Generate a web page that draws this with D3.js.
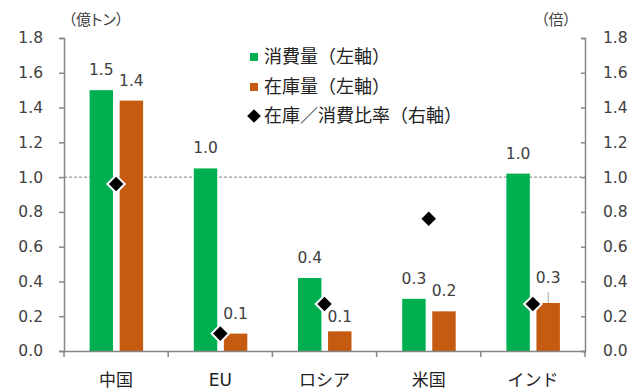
<!DOCTYPE html>
<html><head><meta charset="utf-8">
<script src="https://cdn.jsdelivr.net/npm/d3@7"></script>
<style>
body{margin:0;background:#fff;}
text{font-family:"DejaVu Sans","Noto Sans CJK JP",sans-serif;}
.jp{font-family:"Noto Sans CJK JP",sans-serif;}
</style></head>
<body><svg id="c" width="639" height="391"></svg>
<script>
const categories = ["中国", "EU", "ロシア", "米国", "インド"];
const consumption = [1.50, 1.05, 0.42, 0.30, 1.02];
const stock = [1.44, 0.10, 0.113, 0.228, 0.276];
const ratio = [0.96, 0.10, 0.27, 0.76, 0.27];
const consumptionLabels = ["1.5", "1.0", "0.4", "0.3", "1.0"];
const stockLabels = ["1.4", "0.1", "0.1", "0.2", "0.3"];
const yTicks = [0, 0.2, 0.4, 0.6, 0.8, 1.0, 1.2, 1.4, 1.6, 1.8];
const legendLabels = ["消費量（左軸）", "在庫量（左軸）", "在庫／消費比率（右軸）"];

const GREEN = "#00B050", ORANGE = "#C55A11", AXIS = "#868686", TXT = "#404040";
const svg = d3.select("#c");
const L = 64, R = 585, T = 38, B = 351;

const x = d3.scaleBand().domain(categories).range([L, R]).padding(0);
const keys = ["c", "s"];
const x1 = d3.scaleBand().domain(keys).range([-26.5, 27]).paddingInner(0.22);
const yL = d3.scaleLinear().domain([0, 1.8]).range([B, T]);
const yR = d3.scaleLinear().domain([0, 1.8]).range([B, T]);

// dashed reference line at 1.0
svg.append("line").attr("x1", L).attr("x2", R).attr("y1", yL(1)).attr("y2", yL(1))
  .attr("stroke", "#7f7f7f").attr("stroke-width", 1).attr("stroke-dasharray", "3,2");

// bars
const cx = c => x(c) + x.bandwidth() / 2;
const series = [{k: "c", vals: consumption, col: GREEN, labs: consumptionLabels},
                {k: "s", vals: stock, col: ORANGE, labs: stockLabels}];
series.forEach(s => {
  svg.append("g").selectAll("rect").data(categories).join("rect")
    .attr("x", (c) => cx(c) + x1(s.k))
    .attr("width", x1.bandwidth())
    .attr("y", (c, i) => yL(s.vals[i]))
    .attr("height", (c, i) => B - yL(s.vals[i]))
    .attr("fill", s.col);
});

// axes
const fmt = d3.format(".1f");
const gL = svg.append("g").attr("transform", `translate(${L},0)`)
  .call(d3.axisLeft(yL).tickValues(yTicks).tickFormat(fmt).tickSize(5).tickPadding(16));
const gR = svg.append("g").attr("transform", `translate(${R},0)`)
  .call(d3.axisRight(yR).tickValues(yTicks).tickFormat(fmt).tickSize(-4).tickPadding(18));
const gX = svg.append("g").attr("transform", `translate(0,${B})`)
  .call(d3.axisBottom(x).tickSize(0).tickPadding(23));
[gL, gR, gX].forEach(g => {
  g.select(".domain").attr("stroke", AXIS).attr("stroke-width", 1.5);
  g.selectAll(".tick line").attr("stroke", AXIS).attr("stroke-width", 1.5);
  g.selectAll("text").attr("fill", TXT).attr("font-size", 15.5)
    .attr("font-family", '"DejaVu Sans","Noto Sans CJK JP",sans-serif');
});
gX.selectAll("text").attr("font-size", 17).attr("fill", "#222");
// category separators
svg.append("g").selectAll("line").data(categories.concat(["_end"])).join("line")
  .attr("x1", (c, i) => i < categories.length ? x(c) : R)
  .attr("x2", (c, i) => i < categories.length ? x(c) : R)
  .attr("y1", B).attr("y2", B + 6).attr("stroke", AXIS).attr("stroke-width", 1.5);

// data labels
const labDy = {c: [0, 0, 0, 0, 0], s: [0, 0, 6, 0, -5]};
series.forEach(s => {
  svg.append("g").selectAll("text").data(categories).join("text")
    .attr("x", (c, i) => cx(c) + x1(s.k) + x1.bandwidth() / 2)
    .attr("y", (c, i) => yL(s.vals[i]) - 15 + labDy[s.k][i])
    .attr("text-anchor", "middle").attr("font-size", 15.5).attr("fill", TXT)
    .text((c, i) => s.labs[i]);
});
// leader line for India stock label
{
  const i = 4, c = categories[i];
  const xx = cx(c) + x1("s") + x1.bandwidth() / 2;
  svg.append("line").attr("x1", xx).attr("x2", xx)
    .attr("y1", yL(stock[i]) - 11).attr("y2", yL(stock[i]))
    .attr("stroke", "#a6a6a6").attr("stroke-width", 1);
}

// ratio diamonds
const diamond = d3.symbol().type(d3.symbolDiamond2).size(135);
svg.append("g").selectAll("path").data(categories).join("path")
  .attr("d", diamond)
  .attr("transform", (c, i) => `translate(${cx(c)},${yR(ratio[i])})`)
  .attr("fill", "#000").attr("stroke", "#fff").attr("stroke-width", 4)
  .attr("paint-order", "stroke").attr("stroke-linejoin", "miter");

// axis titles
svg.append("text").attr("class", "jp").attr("x", 96).attr("y", 25).attr("text-anchor", "middle")
  .attr("font-size", 15).attr("fill", TXT).style("font-feature-settings", '"palt"').text("（億トン）");
svg.append("text").attr("class", "jp").attr("x", 556).attr("y", 25).attr("text-anchor", "middle")
  .attr("font-size", 15).attr("fill", TXT).style("font-feature-settings", '"palt"').text("（倍）");

// legend
const lg = svg.append("g");
const rowY = [57, 87, 116];
lg.append("rect").attr("x", 250).attr("y", rowY[0] - 4).attr("width", 8).attr("height", 8).attr("fill", GREEN);
lg.append("rect").attr("x", 250).attr("y", rowY[1] - 4).attr("width", 8).attr("height", 8).attr("fill", ORANGE);
lg.append("path").attr("d", d3.symbol().type(d3.symbolDiamond2).size(120))
  .attr("transform", `translate(254,${rowY[2]})`).attr("fill", "#000");
lg.selectAll("text").data(legendLabels).join("text").attr("class", "jp")
  .attr("x", 264).attr("y", (d, i) => rowY[i]).attr("dy", "0.35em")
  .attr("font-size", 18).attr("fill", "#222").text(d => d);
</script></body></html>
